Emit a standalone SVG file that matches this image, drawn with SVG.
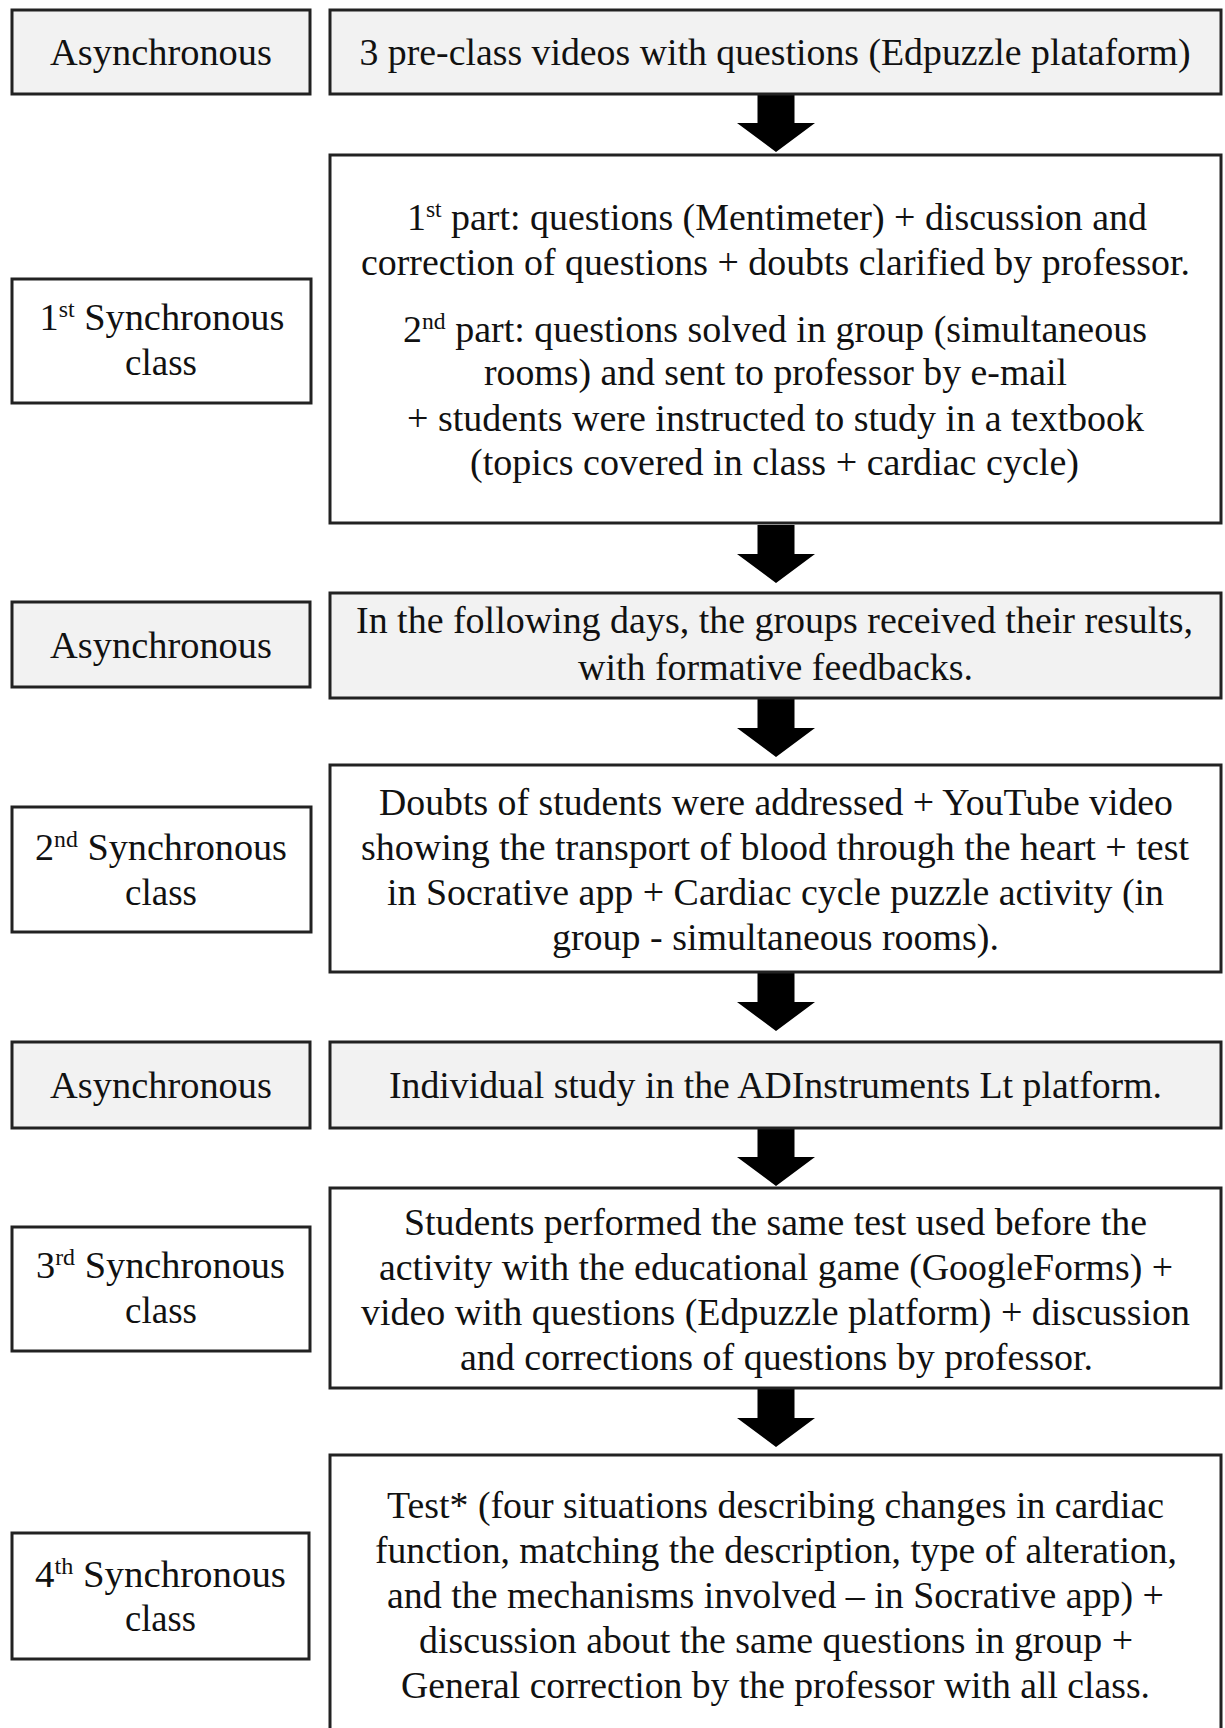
<svg xmlns="http://www.w3.org/2000/svg" width="1225" height="1728" viewBox="0 0 1225 1728">
<style>
.box{fill:#ffffff;stroke:#222222;stroke-width:3}
.async{fill:#f2f2f2}
.t{font-family:"Liberation Serif","Times New Roman",serif;font-size:37px;fill:#111111;text-anchor:middle}
.sup{font-size:23px}
.arrow{fill:#000000}
</style>
<defs>
<path id="arr" d="M-18.5,0 H18.5 V29 H39 L0,58 L-39,29 H-18.5 Z"/>
</defs>
<rect x="0" y="0" width="1225" height="1728" fill="#ffffff"/>

<g id="connectors">
<use href="#arr" class="arrow" x="776" y="94"/>
<use href="#arr" class="arrow" x="776" y="525"/>
<use href="#arr" class="arrow" x="776" y="699"/>
<use href="#arr" class="arrow" x="776" y="973"/>
<use href="#arr" class="arrow" x="776" y="1128"/>
<use href="#arr" class="arrow" x="776" y="1389"/>
</g>

<g id="label-async-1">
<rect class="box async" x="12" y="10" width="298" height="84"/>
<text class="t" x="161" y="65" textLength="222" lengthAdjust="spacingAndGlyphs">Asynchronous</text>
</g>
<g id="step-1">
<rect class="box async" x="330" y="10" width="891" height="84"/>
<text class="t" x="775" y="65" textLength="831" lengthAdjust="spacingAndGlyphs">3 pre-class videos with questions (Edpuzzle plataform)</text>
</g>

<g id="label-sync-1">
<rect class="box" x="12" y="279" width="299" height="124"/>
<text class="t" x="162" y="330" textLength="245" lengthAdjust="spacingAndGlyphs">1<tspan class="sup" dy="-13">st</tspan><tspan dy="13"> Synchronous</tspan></text>
<text class="t" x="161" y="375" textLength="72" lengthAdjust="spacingAndGlyphs">class</text>
</g>
<g id="step-2">
<rect class="box" x="330" y="155" width="891" height="368"/>
<text class="t" x="777" y="230" textLength="740" lengthAdjust="spacingAndGlyphs">1<tspan class="sup" dy="-13">st</tspan><tspan dy="13"> part: questions (Mentimeter) + discussion and</tspan></text>
<text class="t" x="775.5" y="275" textLength="829" lengthAdjust="spacingAndGlyphs">correction of questions + doubts clarified  by professor.</text>
<text class="t" x="775" y="342" textLength="744" lengthAdjust="spacingAndGlyphs">2<tspan class="sup" dy="-13">nd</tspan><tspan dy="13"> part: questions solved in group (simultaneous</tspan></text>
<text class="t" x="775.5" y="385" textLength="583" lengthAdjust="spacingAndGlyphs">rooms) and sent to professor by e-mail</text>
<text class="t" x="775.5" y="431" textLength="737" lengthAdjust="spacingAndGlyphs">+ students were instructed to study in a textbook</text>
<text class="t" x="774.5" y="475" textLength="609" lengthAdjust="spacingAndGlyphs">(topics covered in class + cardiac cycle)</text>
</g>

<g id="label-async-2">
<rect class="box async" x="12" y="602" width="298" height="85"/>
<text class="t" x="161" y="658" textLength="222" lengthAdjust="spacingAndGlyphs">Asynchronous</text>
</g>
<g id="step-3">
<rect class="box async" x="330" y="593" width="891" height="105"/>
<text class="t" x="774.5" y="633" textLength="837" lengthAdjust="spacingAndGlyphs">In the following  days, the groups received  their results,</text>
<text class="t" x="775.5" y="680" textLength="395" lengthAdjust="spacingAndGlyphs">with formative  feedbacks.</text>
</g>

<g id="label-sync-2">
<rect class="box" x="12" y="807" width="299" height="125"/>
<text class="t" x="161" y="860" textLength="252" lengthAdjust="spacingAndGlyphs">2<tspan class="sup" dy="-13">nd</tspan><tspan dy="13"> Synchronous</tspan></text>
<text class="t" x="161" y="905" textLength="72" lengthAdjust="spacingAndGlyphs">class</text>
</g>
<g id="step-4">
<rect class="box" x="330" y="765" width="891" height="207"/>
<text class="t" x="776" y="815" textLength="794" lengthAdjust="spacingAndGlyphs">Doubts of students were addressed + YouTube video</text>
<text class="t" x="775" y="860" textLength="828" lengthAdjust="spacingAndGlyphs">showing the transport of blood through the heart + test</text>
<text class="t" x="775.5" y="905" textLength="777" lengthAdjust="spacingAndGlyphs">in Socrative app + Cardiac cycle puzzle activity  (in</text>
<text class="t" x="775.5" y="950" textLength="447" lengthAdjust="spacingAndGlyphs">group - simultaneous rooms).</text>
</g>

<g id="label-async-3">
<rect class="box async" x="12" y="1042" width="298" height="86"/>
<text class="t" x="161" y="1098" textLength="222" lengthAdjust="spacingAndGlyphs">Asynchronous</text>
</g>
<g id="step-5">
<rect class="box async" x="330" y="1042" width="891" height="86"/>
<text class="t" x="775.5" y="1098" textLength="773" lengthAdjust="spacingAndGlyphs">Individual  study in the ADInstruments Lt platform.</text>
</g>

<g id="label-sync-3">
<rect class="box" x="12" y="1227" width="298" height="124"/>
<text class="t" x="160.5" y="1278" textLength="249" lengthAdjust="spacingAndGlyphs">3<tspan class="sup" dy="-13">rd</tspan><tspan dy="13"> Synchronous</tspan></text>
<text class="t" x="161" y="1323" textLength="72" lengthAdjust="spacingAndGlyphs">class</text>
</g>
<g id="step-6">
<rect class="box" x="330" y="1188" width="891" height="200"/>
<text class="t" x="775.5" y="1235" textLength="743" lengthAdjust="spacingAndGlyphs">Students performed the same test used before the</text>
<text class="t" x="776" y="1280" textLength="794" lengthAdjust="spacingAndGlyphs">activity  with the educational game (GoogleForms) +</text>
<text class="t" x="775.5" y="1325" textLength="829" lengthAdjust="spacingAndGlyphs">video with questions (Edpuzzle platform) + discussion</text>
<text class="t" x="776.5" y="1370" textLength="633" lengthAdjust="spacingAndGlyphs">and corrections of questions by professor.</text>
</g>

<g id="label-sync-4">
<rect class="box" x="12" y="1533" width="297" height="126"/>
<text class="t" x="160.5" y="1587" textLength="251" lengthAdjust="spacingAndGlyphs">4<tspan class="sup" dy="-13">th</tspan><tspan dy="13"> Synchronous</tspan></text>
<text class="t" x="160.5" y="1631" textLength="71" lengthAdjust="spacingAndGlyphs">class</text>
</g>
<g id="step-7">
<rect class="box" x="330" y="1455" width="891" height="300"/>
<text class="t" x="775.5" y="1518" textLength="777" lengthAdjust="spacingAndGlyphs">Test* (four situations describing changes in cardiac</text>
<text class="t" x="776" y="1563" textLength="802" lengthAdjust="spacingAndGlyphs">function, matching the description, type of alteration,</text>
<text class="t" x="775.5" y="1608" textLength="777" lengthAdjust="spacingAndGlyphs">and the mechanisms involved – in Socrative app) +</text>
<text class="t" x="776" y="1653" textLength="714" lengthAdjust="spacingAndGlyphs">discussion about the same questions in group +</text>
<text class="t" x="775.5" y="1698" textLength="749" lengthAdjust="spacingAndGlyphs">General correction by the professor with all class.</text>
</g>
</svg>
